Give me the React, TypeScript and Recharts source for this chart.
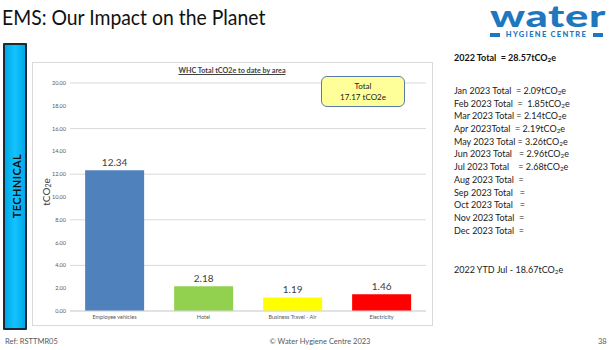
import { BarChart, Bar, XAxis, YAxis, CartesianGrid, Cell, LabelList } from 'recharts';

const areas = ['Employee vehicles', 'Hotel', 'Business Travel - Air', 'Electricity'];
const tco2e = [12.34, 2.18, 1.19, 1.46];
const barColors = ['#4F81BD', '#92D050', '#FFFF00', '#FF0000'];
const yTicks = [0, 2, 4, 6, 8, 10, 12, 14, 16, 18, 20];

const totalYear = '2022 Total  = 28.57tCO';
const monthLines = [
  ['Jan 2023 Total  = 2.09tCO', true],
  ['Feb 2023 Total  =  1.85tCO', true],
  ['Mar 2023 Total = 2.14tCO', true],
  ['Apr 2023Total  = 2.19tCO', true],
  ['May 2023 Total = 3.26tCO', true],
  ['Jun 2023 Total   = 2.96tCO', true],
  ['Jul 2023 Total    = 2.68tCO', true],
  ['Aug 2023 Total  =', false],
  ['Sep 2023 Total   =', false],
  ['Oct 2023 Total   =', false],
  ['Nov 2023 Total  =', false],
  ['Dec 2023 Total  =', false],
] as const;

const data = areas.map((area, i) => ({ area, value: tco2e[i] }));

const FONT = 'Lato, "Open Sans", sans-serif';

function Co2e() {
  return (
    <>
      <span style={{ fontSize: '0.7em', verticalAlign: '-0.15em', lineHeight: 0 }}>2</span>e
    </>
  );
}

export default function App() {
  return (
    <div
      style={{
        position: 'fixed',
        left: 0,
        top: 0,
        width: 613,
        height: 350,
        background: '#fff',
        fontFamily: FONT,
        overflow: 'hidden',
      }}
    >
      {/* slide title */}
      <div
        style={{
          position: 'absolute',
          left: 2,
          top: 3,
          fontSize: 22,
          color: '#111',
          whiteSpace: 'nowrap',
          transform: 'scaleX(0.88)',
          transformOrigin: 'left top',
        }}
      >
        EMS: Our Impact on the Planet
      </div>

      {/* logo */}
      <div
        style={{
          position: 'absolute',
          left: 490,
          top: 0,
          height: 31,
          fontSize: 31,
          lineHeight: '31px',
          fontWeight: 900,
          color: '#1F77C0',
          letterSpacing: 0.5,
          whiteSpace: 'nowrap',
          transform: 'scaleX(1.4)',
          transformOrigin: 'left top',
        }}
      >
        water
      </div>
      <div
        style={{
          position: 'absolute',
          left: 490,
          top: 31,
          width: 113,
          height: 7,
          display: 'flex',
          alignItems: 'center',
          justifyContent: 'space-between',
          color: '#1F77C0',
          fontSize: 7.5,
          lineHeight: '7px',
          fontWeight: 900,
          whiteSpace: 'nowrap',
        }}
      >
        <span style={{ width: 10, height: 4, background: '#1F77C0' }} />
        <span style={{ letterSpacing: 1.3 }}>HYGIENE CENTRE</span>
        <span style={{ width: 10, height: 4, background: '#1F77C0' }} />
      </div>

      {/* side tab */}
      <div
        style={{
          position: 'absolute',
          left: 3,
          top: 43,
          width: 20,
          height: 283,
          background: 'linear-gradient(90deg, #00A8E8, #13C3FF 50%, #00A8E8)',
          border: '2px solid #1b2b33',
          borderRadius: 1,
        }}
      />
      <div
        style={{
          position: 'absolute',
          left: 16,
          top: 186,
          transform: 'translate(-50%, -50%) rotate(-90deg)',
          fontSize: 11,
          fontWeight: 700,
          color: '#111',
          letterSpacing: 0.4,
          whiteSpace: 'nowrap',
        }}
      >
        TECHNICAL
      </div>

      {/* chart panel */}
      <div
        style={{
          position: 'absolute',
          left: 32,
          top: 62,
          width: 399,
          height: 262,
          border: '1px solid #D9D9D9',
          background: '#fff',
        }}
      />
      <div style={{ position: 'absolute', left: 32, top: 62 }}>
        <BarChart
          width={400}
          height={263}
          data={data}
          margin={{ top: 21, right: 6, bottom: 0, left: 0 }}
          barCategoryGap="17%"
        >
          <CartesianGrid vertical={false} stroke="#D9D9D9" />
          <XAxis
            dataKey="area"
            height={14}
            axisLine={{ stroke: '#D9D9D9' }}
            tickLine={false}
            tickSize={0}
            tick={{ fontSize: 5.5, fill: '#595959', fontFamily: FONT }}
            tickMargin={4}
          />
          <YAxis
            width={38}
            domain={[0, 20]}
            ticks={yTicks}
            tickFormatter={(v: number) => v.toFixed(2)}
            axisLine={false}
            tickLine={false}
            tickSize={0}
            tickMargin={4}
            tick={{ fontSize: 5.5, fill: '#595959', fontFamily: FONT }}
          />
          <Bar dataKey="value" isAnimationActive={false}>
            {data.map((d, i) => (
              <Cell key={d.area} fill={barColors[i]} />
            ))}
            <LabelList
              dataKey="value"
              position="top"
              offset={4}
              formatter={(v: number) => v.toFixed(2)}
              style={{ fontSize: 10, fill: '#404040', fontFamily: FONT }}
            />
          </Bar>
        </BarChart>
      </div>

      {/* chart title */}
      <div
        style={{
          position: 'absolute',
          left: 177,
          top: 66,
          width: 110,
          textAlign: 'center',
          fontSize: 7.2,
          fontWeight: 700,
          color: '#404040',
          textDecoration: 'underline',
          whiteSpace: 'nowrap',
        }}
      >
        WHC Total tCO2e to date by area
      </div>

      {/* y axis label */}
      <div
        style={{
          position: 'absolute',
          left: 46,
          top: 192,
          transform: 'translate(-50%, -50%) rotate(-90deg)',
          fontSize: 10,
          color: '#404040',
          whiteSpace: 'nowrap',
        }}
      >
        tCO<Co2e />
      </div>

      {/* total callout */}
      <div
        style={{
          position: 'absolute',
          left: 321,
          top: 76,
          width: 82,
          height: 25,
          background: '#FFFF99',
          border: '1px solid #5A7BA8',
          borderRadius: 6,
          textAlign: 'center',
          fontSize: 8,
          lineHeight: '10.5px',
          paddingTop: 4,
          boxSizing: 'content-box',
          color: '#222',
        }}
      >
        Total
        <br />
        17.17 tCO2e
      </div>

      {/* monthly totals */}
      <div
        style={{
          position: 'absolute',
          left: 454,
          top: 52,
          fontSize: 9,
          fontWeight: 700,
          color: '#111',
          whiteSpace: 'pre',
        }}
      >
        {totalYear}
        <Co2e />
      </div>
      <div
        style={{
          position: 'absolute',
          left: 454,
          top: 85,
          fontSize: 9,
          lineHeight: '12.7px',
          color: '#222',
          whiteSpace: 'pre',
        }}
      >
        {monthLines.map(([txt, unit]) => (
          <div key={txt} style={{ height: 12.7 }}>
            {txt}
            {unit ? <Co2e /> : null}
          </div>
        ))}
      </div>
      <div
        style={{
          position: 'absolute',
          left: 454,
          top: 264,
          fontSize: 9,
          color: '#222',
          whiteSpace: 'pre',
        }}
      >
        2022 YTD Jul - 18.67tCO<Co2e />
      </div>

      {/* footer */}
      <div style={{ position: 'absolute', left: 5, top: 337, fontSize: 7.5, color: '#595959' }}>Ref: RSTTMR05</div>
      <div
        style={{
          position: 'absolute',
          left: 220,
          top: 337,
          width: 200,
          textAlign: 'center',
          fontSize: 7.5,
          color: '#595959',
        }}
      >
        © Water Hygiene Centre 2023
      </div>
      <div style={{ position: 'absolute', left: 598, top: 337, fontSize: 7.5, color: '#595959' }}>38</div>
    </div>
  );
}
